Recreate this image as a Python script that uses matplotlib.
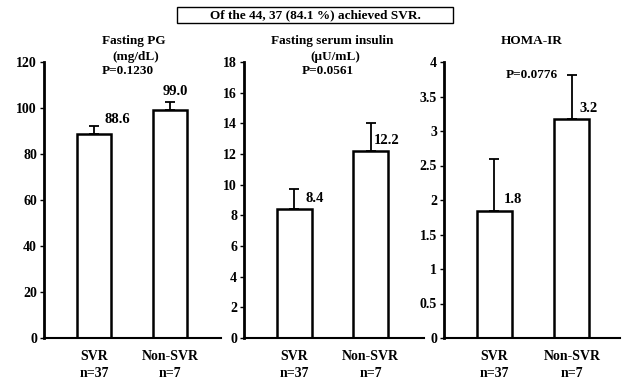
import matplotlib
matplotlib.use("Agg")
import matplotlib.pyplot as plt
from matplotlib.patches import Rectangle

plt.rcParams['font.family'] = ['Liberation Serif', 'DejaVu Serif']
plt.rcParams['font.weight'] = 'bold'

groups = ["SVR\nn=37", "Non-SVR\nn=7"]

pg_means = [88.6, 99.0]
pg_err = [3.6, 3.6]
insulin_means = [8.4, 12.2]
insulin_err = [1.3, 1.8]
homa_means = [1.84, 3.17]
homa_err = [0.75, 0.64]

pg_labels = ["88.6", "99.0"]
insulin_labels = ["8.4", "12.2"]
homa_labels = ["1.8", "3.2"]

W, H = 626, 380
fig = plt.figure(figsize=(W / 100, H / 100), dpi=100)


def px_axes(x0, x1, y_bottom=338, y_top=62):
    return fig.add_axes([x0 / W, (H - y_bottom) / H, (x1 - x0) / W, (y_bottom - y_top) / H])


def px_text(x, y, s, **kw):
    # x, y in pixels from top-left of the figure
    fig.text(x / W, (H - y) / H, s, ha='center', va='center', fontsize=9.5,
             fontweight='bold', **kw)


def panel(ax, means, err, labels, offsets, ymax, ystep, xlim):
    x = [0, 1]
    ax.bar(x, means, width=0.45, color='white', edgecolor='black', linewidth=1.8, zorder=2)
    ax.errorbar(x, means, yerr=[[0, 0], err], fmt='none', ecolor='black',
                elinewidth=1.3, capsize=3.5, capthick=1.3, zorder=1)
    for xi, m, lab, off in zip(x, means, labels, offsets):
        ax.annotate(lab, (xi, m), xytext=off, textcoords='offset pixels',
                    fontsize=10.5, fontweight='bold', ha='center', va='center')
    ax.set_xlim(*xlim)
    ax.set_ylim(0, ymax)
    ticks = [i * ystep for i in range(int(round(ymax / ystep)) + 1)]
    ax.set_yticks(ticks)
    ax.set_yticklabels([f"{t:g}" for t in ticks], fontsize=10, fontweight='bold')
    ax.set_xticks(x)
    ax.set_xticklabels(groups, fontsize=10, fontweight='bold', linespacing=1.35)
    ax.tick_params(axis='x', length=0, pad=9)
    ax.tick_params(axis='y', length=3, width=1, direction='out', pad=2)
    for s in ['top', 'right']:
        ax.spines[s].set_visible(False)
    ax.spines['left'].set_linewidth(2.0)
    ax.spines['bottom'].set_linewidth(1.5)
    ax.set_facecolor('none')


ax1 = px_axes(44, 221)
panel(ax1, pg_means, pg_err, pg_labels, [(23, 15), (5, 19)], 120, 20, (-0.66, 1.67))
px_text(134, 41, "Fasting PG")
px_text(136, 57, "(mg/dL)")
px_text(128, 71, "P=0.1230")

ax2 = px_axes(244, 424)
panel(ax2, insulin_means, insulin_err, insulin_labels, [(20, 11), (16, 10)], 18, 2,
      (-0.66, 1.70))
px_text(332, 41, "Fasting serum insulin")
px_text(335, 57, "(\u00b5U/mL)")
px_text(328, 71, "P=0.0561")

ax3 = px_axes(444, 620)
panel(ax3, homa_means, homa_err, homa_labels, [(19, 12), (17, 11)], 4, 0.5, (-0.65, 1.62))
px_text(532, 41, "HOMA-IR")
px_text(532, 75, "P=0.0776")

fig.patches.append(Rectangle((177 / W, (H - 23) / H), (453 - 177) / W, 16 / H,
                             transform=fig.transFigure, fill=False, edgecolor='black',
                             linewidth=1.0))
px_text(315, 15, "Of the 44, 37 (84.1 %) achieved SVR.")

fig.savefig("out.png", dpi=100)
